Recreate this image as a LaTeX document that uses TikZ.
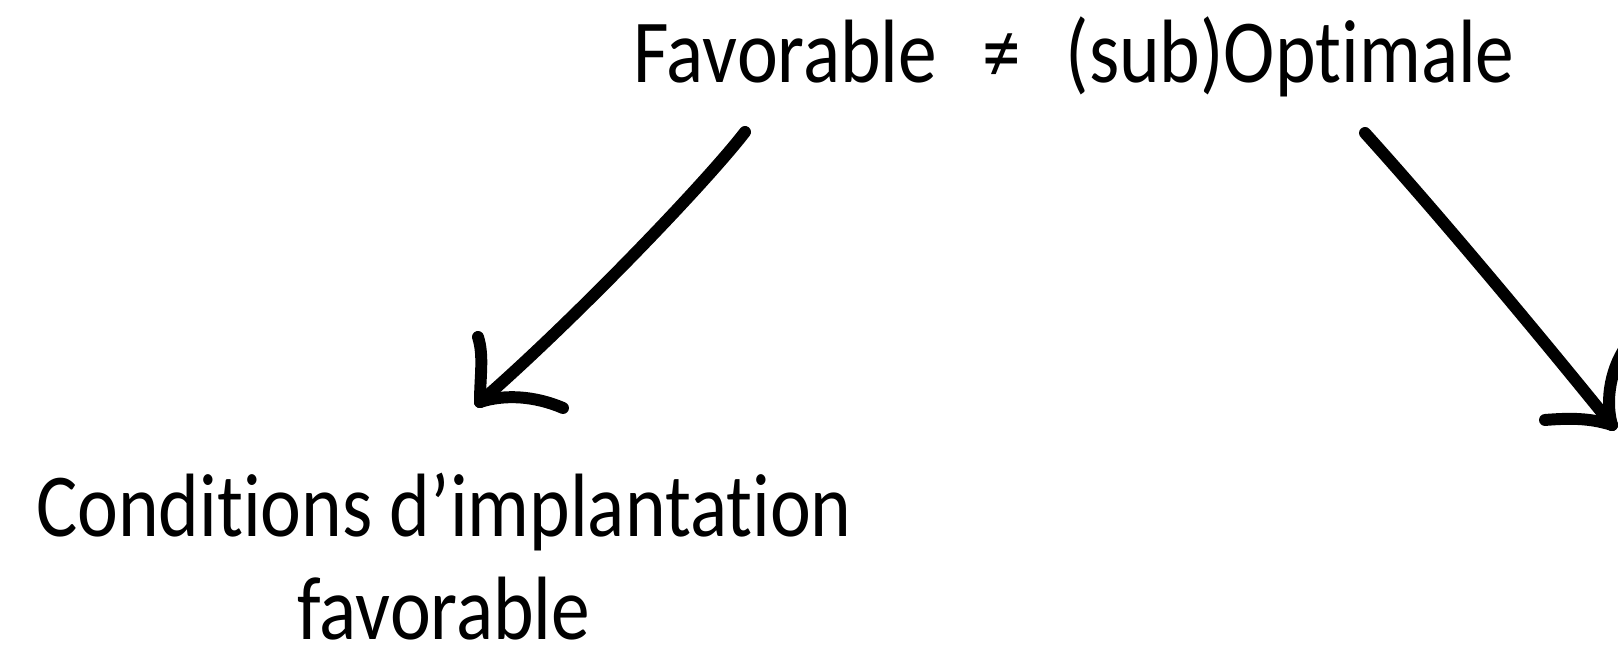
\documentclass[tikz,border=0pt]{standalone}
\usepackage{fontspec}
\setmainfont[FakeStretch=0.86,Ligatures=NoCommon]{Carlito}
\usepackage{tikz}
\tikzset{
  sketchtext/.style={font=\fontsize{25.6pt}{30pt}\selectfont, inner sep=0pt, align=center},
  sketchline/.style={line width=3.4pt, line cap=round, line join=round}
}

\begin{document}
\begin{tikzpicture}
\useasboundingbox (0,0) rectangle (16.18,6.56);
\clip (0,0) rectangle (16.18,6.56);
% texts
\node[sketchtext, anchor=base] (title) at (10.74,5.73) {Favorable\hspace{0.5em}≠\hspace{0.5em}(sub)Optimale};
\node[sketchtext, anchor=base] (cond) at (4.44,1.19) {Conditions d’implantation};
\node[sketchtext, anchor=base] (fav) at (4.44,0.16) {favorable};

% arrow ends
\coordinate (lstart) at (7.45,5.24);
\coordinate (ltip) at (4.80,2.54);
\coordinate (rstart) at (13.65,5.23);
\coordinate (rtip) at (16.12,2.31);

% left arrow
\draw[sketchline] (lstart) .. controls (7.05,4.72) and (5.70,3.32) .. (ltip);
\draw[sketchline] (ltip) .. controls (4.80,2.80) and (4.84,3.00) .. (4.78,3.19);
\draw[sketchline] (ltip) .. controls (5.05,2.62) and (5.35,2.60) .. (5.63,2.48);

% right arrow
\draw[sketchline] (rstart) .. controls (14.40,4.40) and (15.40,3.20) .. (rtip);
\draw[sketchline] (rtip) .. controls (15.90,2.38) and (15.70,2.38) .. (15.45,2.36);
\draw[sketchline] (rtip) .. controls (16.05,2.55) and (16.10,2.90) .. (16.30,3.15);
\end{tikzpicture}
\end{document}
